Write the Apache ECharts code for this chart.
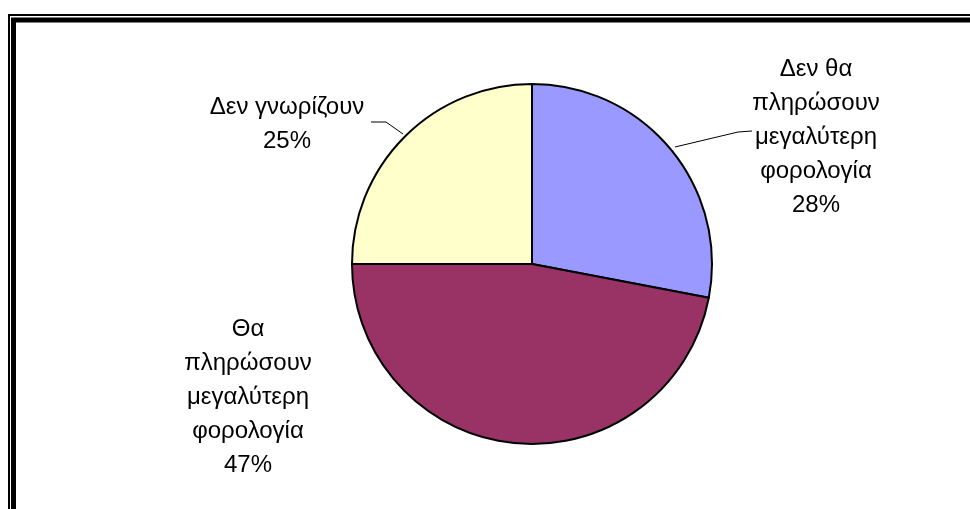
<!DOCTYPE html>
<html>
<head>
<meta charset="utf-8">
<script src="https://cdn.jsdelivr.net/npm/echarts@6/dist/echarts.min.js"></script>
<style>
html,body{margin:0;padding:0;background:#fff;}
#c{width:970px;height:509px;}
</style>
</head>
<body>
<div id="c"></div>
<script>
const categories = [
  "Δεν θα\nπληρώσουν\nμεγαλύτερη\nφορολογία",
  "Θα\nπληρώσουν\nμεγαλύτερη\nφορολογία",
  "Δεν γνωρίζουν"
];
const values = [28, 47, 25];
const colors = ['#9999FF', '#993366', '#FFFFCC'];

const labelPos = [
  {x: 816, y: 137, line: [[675,147],[738,132],[752,131]]},
  {x: 287, y: 124, line: null},
  {x: 287, y: 124, line: [[403,134],[386,122],[371,122]]}
];
labelPos[1] = {x: 248, y: 397, line: null};

const chart = echarts.init(document.getElementById('c'));
chart.setOption({
  animation: false,
  backgroundColor: '#ffffff',
  graphic: [
    {type:'rect', shape:{x:9, y:15, width:1100, height:700}, style:{fill:'none', stroke:'#000', lineWidth:2}},
    {type:'rect', shape:{x:13.5, y:20, width:1100, height:700}, style:{fill:'none', stroke:'#000', lineWidth:5}}
  ],
  series: [{
    type: 'pie',
    center: [532, 264],
    radius: 180,
    startAngle: 90,
    clockwise: true,
    avoidLabelOverlap: false,
    itemStyle: {borderColor:'#000', borderWidth:2},
    emphasis: {disabled: true},
    label: {
      show: true,
      position: 'outside',
      formatter: p => p.name + '\n' + p.value + '%',
      fontFamily: 'Liberation Sans, Arial, sans-serif',
      fontSize: 24,
      lineHeight: 34,
      color: '#000',
      align: 'center'
    },
    labelLine: {show: true, lineStyle: {color:'#000', width:1}},
    labelLayout: function (params) {
      const p = labelPos[params.dataIndex];
      const r = {x: p.x, y: p.y, align: 'center', verticalAlign: 'middle'};
      if (p.line) r.labelLinePoints = p.line;
      return r;
    },
    data: categories.map((n, i) => ({
      name: n,
      value: values[i],
      itemStyle: {color: colors[i]},
      labelLine: {show: i !== 1}
    }))
  }]
});
</script>
</body>
</html>
